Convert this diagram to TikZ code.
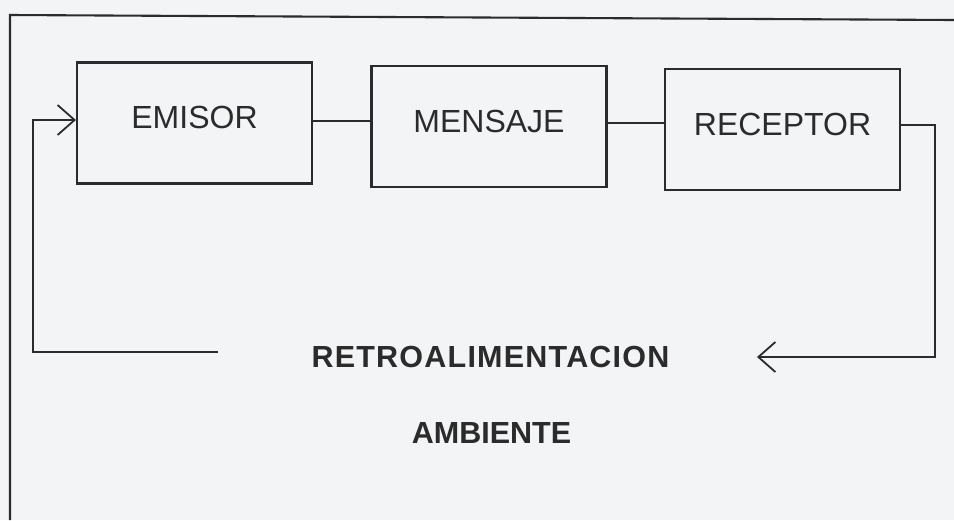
\documentclass[tikz,border=0pt]{standalone}
\usepackage{fontspec}
\setmainfont{Liberation Sans}
\usetikzlibrary{arrows.meta}
\definecolor{ink}{HTML}{2B2B2B}
\definecolor{paper}{HTML}{F3F4F6}
\tikzset{
  blockbox/.style={draw=ink, line width=2.1pt, minimum width=235pt, minimum height=121pt,
    inner sep=0pt, text=ink, font=\fontsize{32pt}{36pt}\selectfont, text depth=11pt},
  wire/.style={draw=ink, line width=2.1pt},
  barb/.style={-{Straight Barb[length=17pt,width=30pt,line width=1.8pt]}},
  lbl/.style={text=ink, font=\fontsize{30.5pt}{34pt}\selectfont\bfseries, inner sep=0pt}
}
\begin{document}
\begin{tikzpicture}[x=1pt,y=-1pt]
\fill[paper] (0,0) rectangle (954,520);
\useasboundingbox (0,0) rectangle (954,520);
% outer frame (left and top edges visible)
\coordinate (ftl) at (10,15);
\coordinate (ftr) at (954,20);
\coordinate (fbl) at (10,520);
\draw[wire] (ftr) -- (ftl) -- (fbl);
% blocks
\node[blockbox] (em) at (194.5,123) {EMISOR};
\node[blockbox] (me) at (489,126.5) {MENSAJE};
\node[blockbox] (re) at (782.5,129.5) {RECEPTOR};
\draw[wire] (em.east |- 0,121) -- (me.west |- 0,121);
\draw[wire] (me.east |- 0,123) -- (re.west |- 0,123);
% labels
\node[lbl] (retro) at (490.5,357) {\addfontfeature{LetterSpace=4}RETROALIMENTACION};
\node[lbl] (amb) at (491.5,433) {AMBIENTE};
% feedback path
\coordinate (rr) at (935,125);
\coordinate (rend) at (757,357);
\coordinate (lstart) at (218,352);
\coordinate (ll) at (33,352);
\draw[wire, barb] (re.east |- rr) -- (rr) -- (rr |- rend) -- (rend);
\draw[wire, barb] (lstart) -- (ll) -- (ll |- 0,120) -- (em.west |- 0,120);
\end{tikzpicture}
\end{document}
